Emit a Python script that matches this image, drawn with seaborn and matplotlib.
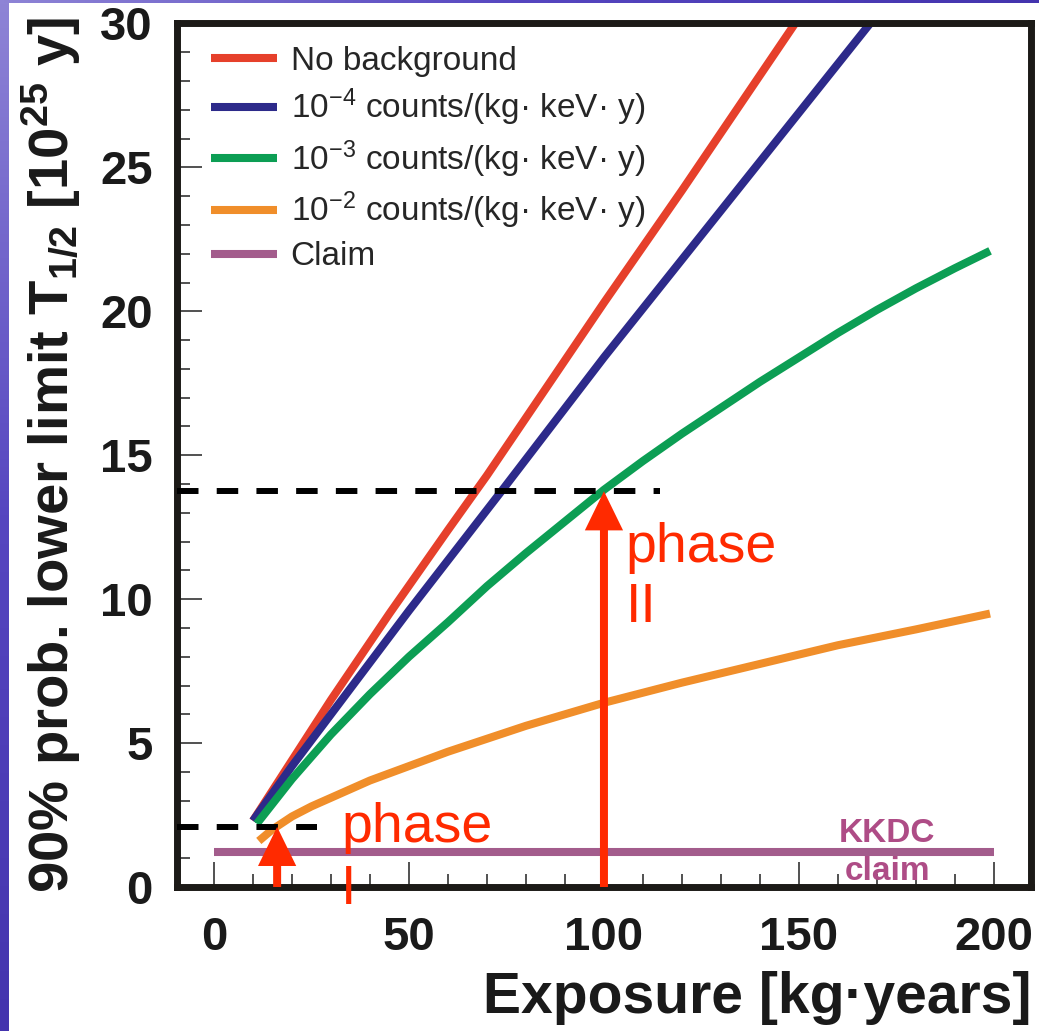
import numpy as np
import pandas as pd
import matplotlib
matplotlib.use("Agg")
import matplotlib.pyplot as plt
import seaborn as sns
from matplotlib.ticker import MultipleLocator
from matplotlib.colors import LinearSegmentedColormap

# Curves (exposure in kg*years, T1/2 limit in 1e25 y)
no_bkg_x = [10, 20, 30, 45, 60, 70, 80, 100, 120, 140, 150]
no_bkg_y = [2.3, 4.4, 6.5, 9.5, 12.4, 14.3, 16.3, 20.3, 24.2, 28.2, 30.2]

bkg4_x = [10, 20, 30, 50, 74, 100, 120, 140, 160, 170]
bkg4_y = [2.3, 4.2, 6.0, 9.6, 13.8, 18.4, 21.8, 25.2, 28.6, 30.3]

bkg3_x = [11, 20, 30, 40, 50, 60, 70, 80, 90, 100, 110, 120, 130, 140,
          150, 160, 170, 180, 190, 199]
bkg3_y = [2.2, 3.75, 5.3, 6.7, 8.0, 9.2, 10.45, 11.6, 12.7, 13.8, 14.8,
          15.75, 16.65, 17.55, 18.4, 19.25, 20.05, 20.8, 21.5, 22.1]

bkg2_x = [11.5, 15, 20, 25, 30, 40, 50, 60, 70, 80, 90, 100, 120, 140,
          160, 180, 199]
bkg2_y = [1.6, 2.0, 2.45, 2.8, 3.1, 3.7, 4.2, 4.7, 5.15, 5.6, 6.0, 6.4,
          7.1, 7.75, 8.4, 8.95, 9.5]

claim_x = [0, 200]
claim_y = [1.2, 1.2]

# phase I / phase II markers
phase_exposure = [16.2, 100]
phase_limit = [2.09, 13.75]
dash_end = [26.4, 114.4]
phase_labels = ["phase\nI", "phase\nII"]

labels = ["No background",
          "10$^{-4}$ counts/(kg· keV· y)",
          "10$^{-3}$ counts/(kg· keV· y)",
          "10$^{-2}$ counts/(kg· keV· y)",
          "Claim"]
colors = ["#E6402B", "#2D2A8A", "#0C9E54", "#F08E2A", "#A35C8C"]

sns.set_theme(style="ticks")
plt.rcParams["font.family"] = ["Liberation Sans", "DejaVu Sans"]
plt.rcParams["mathtext.default"] = "regular"

fig = plt.figure(figsize=(10.39, 10.31), dpi=100)
fig.patch.set_facecolor("white")

# slide background strips
purple = LinearSegmentedColormap.from_list("slide", ["#8E84D6", "#5646C0", "#4434AE"])
strip = fig.add_axes([0, 0, 9 / 1039, 1], zorder=-5)
strip.imshow(np.linspace(0, 1, 256).reshape(-1, 1), aspect="auto", cmap=purple)
strip.axis("off")
top = fig.add_axes([0, 1 - 3.5 / 1031, 1, 3.5 / 1031], zorder=-5)
top.imshow(np.linspace(0.3, 0.8, 256).reshape(1, -1), aspect="auto", cmap=purple)
top.axis("off")

ax = fig.add_axes([0.16988, 0.13967, 0.82243, 0.83754])
ax.set_facecolor("white")

series = [(no_bkg_x, no_bkg_y), (bkg4_x, bkg4_y), (bkg3_x, bkg3_y),
          (bkg2_x, bkg2_y), (claim_x, claim_y)]
for (xs, ys), lab, col in zip(series, labels, colors):
    sns.lineplot(x=xs, y=ys, color=col, lw=5.8, label=lab, ax=ax,
                 solid_capstyle="butt", solid_joinstyle="round",
                 sort=False, estimator=None)

# dashed guide lines
for xe, yl in zip(dash_end, phase_limit):
    ax.plot([-9.6, xe], [yl, yl], color="black", lw=4.3, dashes=(3.6, 3.05),
            zorder=3)

# arrows
red = "#FF2A00"
for xe, yl in zip(phase_exposure, phase_limit):
    ax.arrow(xe, 0, 0, yl, width=2.05, head_width=9.8, head_length=1.36,
             length_includes_head=True, color=red, lw=0, zorder=5)

ax.text(32.6, 2.95, phase_labels[0], color=red, fontsize=40, va="top", ha="left",
        linespacing=1.25)
ax.text(105.6, 12.67, phase_labels[1], color=red, fontsize=40, va="top", ha="left")
ax.text(172.6, 2.4, "KKDC\nclaim", color="#AE4C86", fontsize=24,
        fontweight="bold", va="top", ha="center", linespacing=1.3)

ax.set_xlim(-9.6, 209.5)
ax.set_ylim(0, 30)
ax.xaxis.set_major_locator(MultipleLocator(50))
ax.xaxis.set_minor_locator(MultipleLocator(10))
ax.yaxis.set_major_locator(MultipleLocator(5))
ax.yaxis.set_minor_locator(MultipleLocator(1))
ax.tick_params(which="both", direction="in", color="#333333", width=1.2)
ax.tick_params(which="major", length=18, labelsize=34, pad=17)
ax.tick_params(axis="x", which="major", pad=21)
ax.tick_params(which="minor", length=9.5)
for lab in ax.get_xticklabels() + ax.get_yticklabels():
    lab.set_fontweight("bold")
    lab.set_color("#1a1a1a")
for sp in ax.spines.values():
    sp.set_visible(True)
    sp.set_linewidth(5)
    sp.set_color("#1c1a17")

ax.set_xlabel("Exposure [kg·years]", fontsize=41, fontweight="bold",
              loc="right", labelpad=8, color="#1a1a1a")
ax.set_ylabel("90% prob. lower limit T$_{1/2}$ [10$^{25}$ y]", fontsize=40.5,
              fontweight="bold", labelpad=12, color="#1a1a1a")

ax.legend(loc="upper left", bbox_to_anchor=(0.040, 0.974), frameon=False,
          fontsize=24, handlelength=2.0, handletextpad=0.4, labelspacing=0.30,
          borderpad=0, borderaxespad=0)

fig.savefig("out.png", dpi=100)
